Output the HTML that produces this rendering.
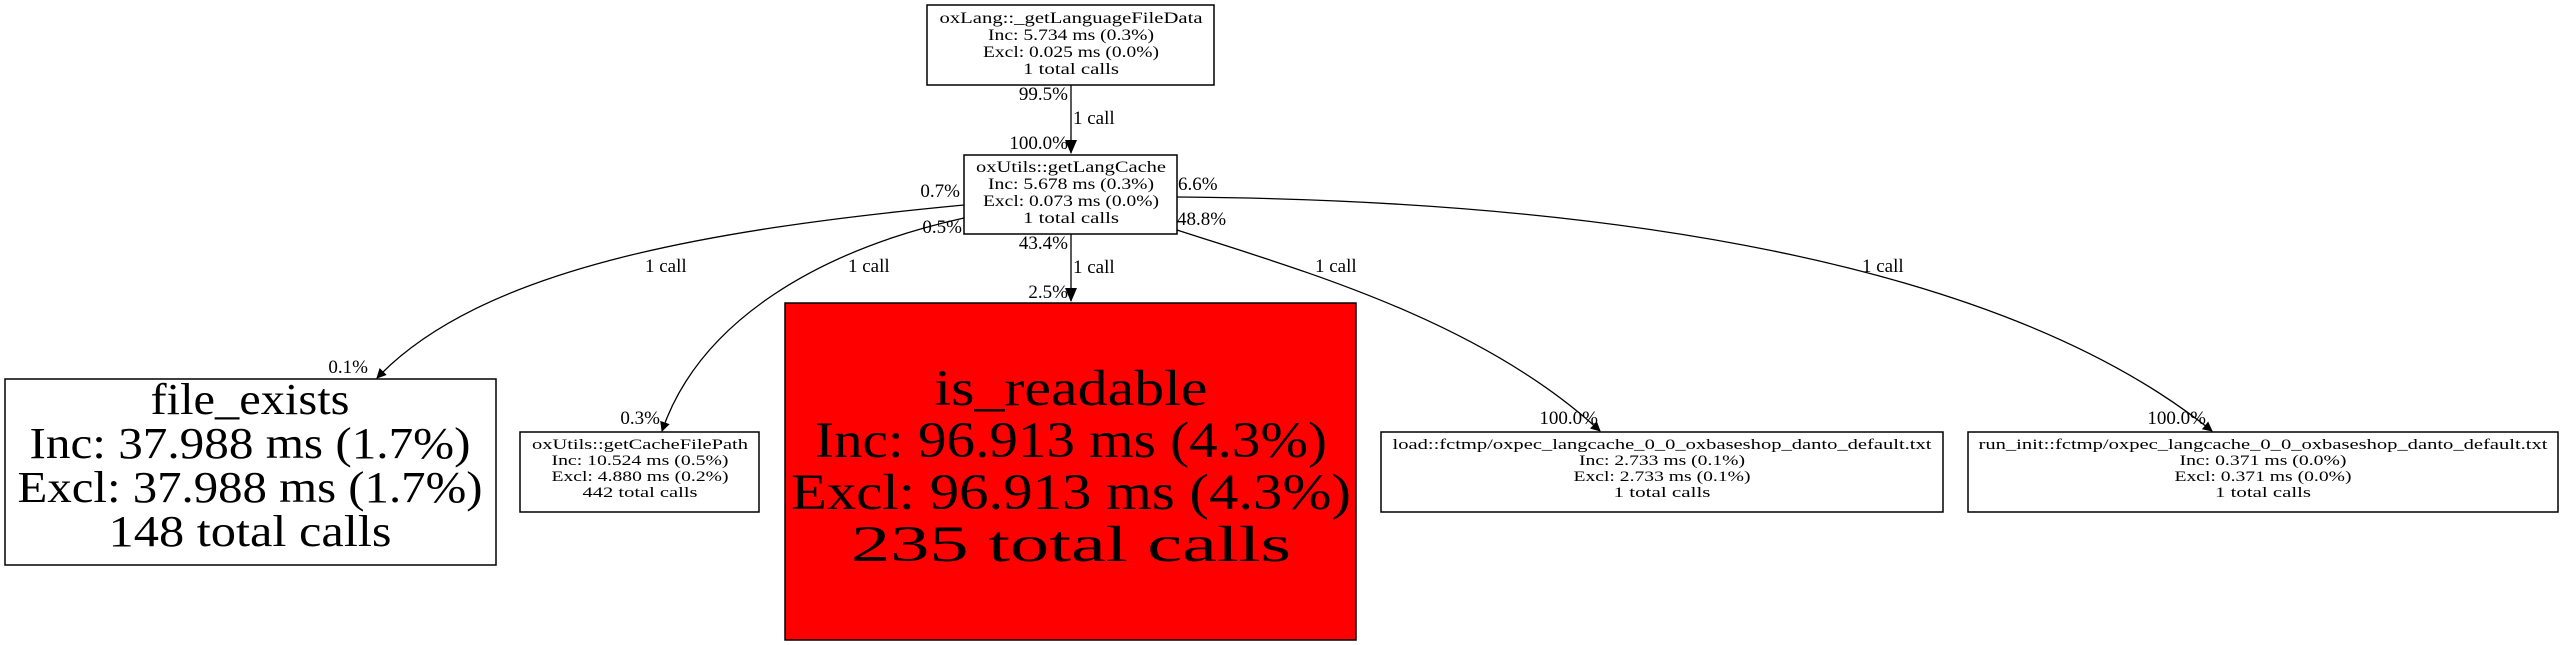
<!DOCTYPE html>
<html><head><meta charset="utf-8"><style>
html,body{margin:0;padding:0;background:#fff;}
svg{display:block;}
text{font-family:"Liberation Serif",serif;fill:#000;}
</style></head><body>
<svg width="2565" height="645" viewBox="0 0 2565 645" xmlns="http://www.w3.org/2000/svg">
<defs><marker id="a" markerWidth="10" markerHeight="10" refX="9" refY="5" orient="auto" markerUnits="userSpaceOnUse"><path d="M0,0 L10,5 L0,10 z" fill="#000"/></marker>
<marker id="b" markerWidth="14" markerHeight="12" refX="13" refY="6" orient="auto" markerUnits="userSpaceOnUse"><path d="M0,0 L14,6 L0,12 z" fill="#000"/></marker></defs>
<g fill="none" stroke="#000" stroke-width="1.3">
<line x1="1071" y1="85" x2="1071" y2="153" marker-end="url(#b)"/>
<line x1="1071" y1="234" x2="1071" y2="301" marker-end="url(#b)"/>
<path d="M964,205 C700,230 480,270 377,378" marker-end="url(#a)"/>
<path d="M964,218 C820,250 700,320 662,431" marker-end="url(#a)"/>
<path d="M1177,230 C1300,270 1480,320 1600,431" marker-end="url(#a)"/>
<path d="M1177,197 C1600,200 2000,260 2212,431" marker-end="url(#a)"/>
</g>
<g stroke="#000" stroke-width="1.5">
<rect x="927" y="5" width="287" height="80" fill="#fff"/>
<rect x="964" y="155" width="213" height="79" fill="#fff"/>
<rect x="785" y="303" width="571" height="337" fill="#ff0000"/>
<rect x="5" y="379" width="491" height="186" fill="#fff"/>
<rect x="520" y="432" width="239" height="80" fill="#fff"/>
<rect x="1381" y="432" width="562" height="80" fill="#fff"/>
<rect x="1968" y="432" width="590" height="80" fill="#fff"/>
</g>
<g text-anchor="middle" font-size="16" lengthAdjust="spacingAndGlyphs">
<text x="1071" y="23" textLength="263" lengthAdjust="spacingAndGlyphs">oxLang::_getLanguageFileData</text>
<text x="1071" y="40" textLength="166" lengthAdjust="spacingAndGlyphs">Inc: 5.734 ms (0.3%)</text>
<text x="1071" y="57" textLength="176" lengthAdjust="spacingAndGlyphs">Excl: 0.025 ms (0.0%)</text>
<text x="1071" y="74" textLength="96" lengthAdjust="spacingAndGlyphs">1 total calls</text>
<text x="1071" y="172" textLength="190" lengthAdjust="spacingAndGlyphs">oxUtils::getLangCache</text>
<text x="1071" y="189" textLength="166" lengthAdjust="spacingAndGlyphs">Inc: 5.678 ms (0.3%)</text>
<text x="1071" y="206" textLength="176" lengthAdjust="spacingAndGlyphs">Excl: 0.073 ms (0.0%)</text>
<text x="1071" y="223" textLength="96" lengthAdjust="spacingAndGlyphs">1 total calls</text>
</g>
<g text-anchor="middle" font-size="15">
<text x="640" y="449" textLength="216" lengthAdjust="spacingAndGlyphs">oxUtils::getCacheFilePath</text>
<text x="640" y="465" textLength="177" lengthAdjust="spacingAndGlyphs">Inc: 10.524 ms (0.5%)</text>
<text x="640" y="481" textLength="177" lengthAdjust="spacingAndGlyphs">Excl: 4.880 ms (0.2%)</text>
<text x="640" y="497" textLength="115" lengthAdjust="spacingAndGlyphs">442 total calls</text>
<text x="1662" y="449" textLength="539" lengthAdjust="spacingAndGlyphs">load::fctmp/oxpec_langcache_0_0_oxbaseshop_danto_default.txt</text>
<text x="1662" y="465" textLength="166" lengthAdjust="spacingAndGlyphs">Inc: 2.733 ms (0.1%)</text>
<text x="1662" y="481" textLength="177" lengthAdjust="spacingAndGlyphs">Excl: 2.733 ms (0.1%)</text>
<text x="1662" y="497" textLength="97" lengthAdjust="spacingAndGlyphs">1 total calls</text>
<text x="2263" y="449" textLength="569" lengthAdjust="spacingAndGlyphs">run_init::fctmp/oxpec_langcache_0_0_oxbaseshop_danto_default.txt</text>
<text x="2263" y="465" textLength="167" lengthAdjust="spacingAndGlyphs">Inc: 0.371 ms (0.0%)</text>
<text x="2263" y="481" textLength="177" lengthAdjust="spacingAndGlyphs">Excl: 0.371 ms (0.0%)</text>
<text x="2263" y="497" textLength="96" lengthAdjust="spacingAndGlyphs">1 total calls</text>
</g>
<g text-anchor="middle" font-size="44">
<text x="250" y="414" textLength="199" lengthAdjust="spacingAndGlyphs">file_exists</text>
<text x="250" y="458" textLength="441" lengthAdjust="spacingAndGlyphs">Inc: 37.988 ms (1.7%)</text>
<text x="250" y="502" textLength="465" lengthAdjust="spacingAndGlyphs">Excl: 37.988 ms (1.7%)</text>
<text x="250" y="546" textLength="283" lengthAdjust="spacingAndGlyphs">148 total calls</text>
</g>
<g text-anchor="middle" font-size="51">
<text x="1071" y="405" textLength="273" lengthAdjust="spacingAndGlyphs">is_readable</text>
<text x="1071" y="457" textLength="512" lengthAdjust="spacingAndGlyphs">Inc: 96.913 ms (4.3%)</text>
<text x="1071" y="509" textLength="560" lengthAdjust="spacingAndGlyphs">Excl: 96.913 ms (4.3%)</text>
<text x="1071" y="561" textLength="440" lengthAdjust="spacingAndGlyphs">235 total calls</text>
</g>
<g font-size="19">
<text x="1068" y="100" text-anchor="end">99.5%</text>
<text x="1073" y="124">1 call</text>
<text x="1068" y="149" text-anchor="end">100.0%</text>
<text x="960" y="197" text-anchor="end">0.7%</text>
<text x="962" y="233" text-anchor="end">0.5%</text>
<text x="1068" y="249" text-anchor="end">43.4%</text>
<text x="1073" y="273">1 call</text>
<text x="1068" y="298" text-anchor="end">2.5%</text>
<text x="1178" y="190">6.6%</text>
<text x="1177" y="225">48.8%</text>
<text x="645" y="272">1 call</text>
<text x="848" y="272">1 call</text>
<text x="1315" y="272">1 call</text>
<text x="1862" y="272">1 call</text>
<text x="368" y="373" text-anchor="end">0.1%</text>
<text x="660" y="424" text-anchor="end">0.3%</text>
<text x="1598" y="424" text-anchor="end">100.0%</text>
<text x="2206" y="424" text-anchor="end">100.0%</text>
</g>
</svg>
</body></html>
